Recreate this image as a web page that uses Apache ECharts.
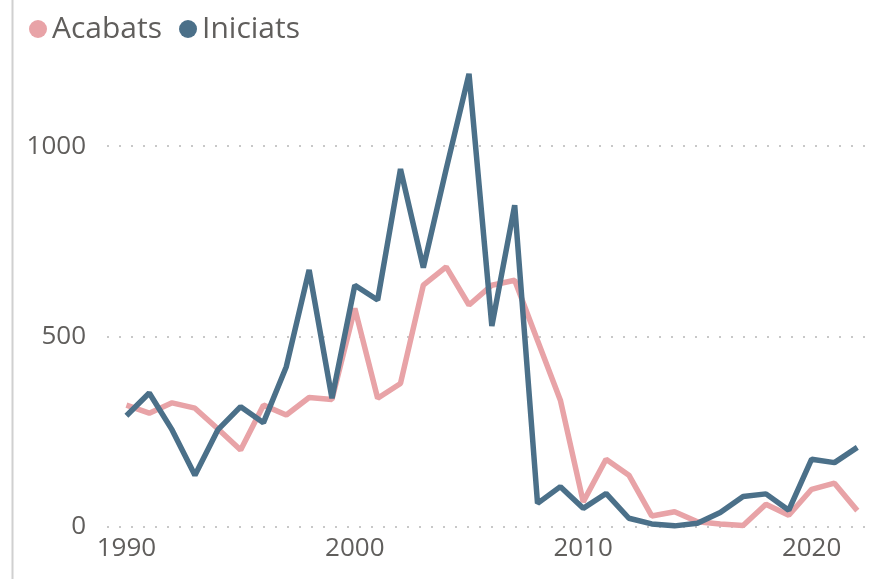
<!DOCTYPE html>
<html>
<head>
<meta charset="utf-8">
<script src="https://cdn.jsdelivr.net/npm/echarts@6/dist/echarts.min.js"></script>
<style>
  html, body { margin: 0; padding: 0; background: #fff; }
  #chart { width: 881px; height: 579px; }
</style>
</head>
<body>
<div id="chart"></div>
<script>
// Yearly counts, 1990–2022
const years = [1990,1991,1992,1993,1994,1995,1996,1997,1998,1999,
               2000,2001,2002,2003,2004,2005,2006,2007,2008,2009,
               2010,2011,2012,2013,2014,2015,2016,2017,2018,2019,
               2020,2021,2022];
const acabats = [320,299,326,312,258,202,320,294,340,335,
                 574,338,377,635,683,583,635,648,490,333,
                 66,178,136,29,40,14,8,4,60,31,
                 99,115,43];
const iniciats = [292,352,255,136,255,316,274,421,675,338,
                  635,596,940,681,940,1190,528,845,62,106,
                  49,88,23,8,3,10,38,80,87,44,
                  178,169,209];
const xTicks = [1990, 2000, 2010, 2020];
const yTicks = [0, 500, 1000];

const pair = (vals) => years.map((y, i) => [y, vals[i]]);
const font = '"Open Sans", "Noto Sans", sans-serif';
const plain = (v) => String(Math.round(v));

const chart = echarts.init(document.getElementById('chart'), null, { renderer: 'canvas' });
chart.setOption({
  animation: false,
  textStyle: { fontFamily: font },
  color: ['#E8A3A7', '#4B7089'],
  graphic: [{
    type: 'line',
    shape: { x1: 12.5, y1: 0, x2: 12.5, y2: 579 },
    style: { stroke: '#d0d0d0', lineWidth: 2 }
  }],
  legend: {
    left: 24, top: 9,
    icon: 'circle',
    itemWidth: 18, itemHeight: 18,
    itemGap: 17,
    textStyle: { fontSize: 30, color: '#605E5C', fontFamily: font, padding: [0, 0, 0, 0] },
    data: ['Acabats', 'Iniciats']
  },
  grid: { left: 107, right: 10, top: 51, bottom: 52, containLabel: false },
  xAxis: {
    type: 'value',
    min: 1989.15, max: 2022.6,
    axisLine: { show: false },
    axisTick: { show: false },
    splitLine: { show: false },
    axisLabel: {
      customValues: xTicks, formatter: plain,
      fontSize: 26, color: '#605E5C', margin: 9, fontFamily: font
    }
  },
  yAxis: {
    type: 'value',
    min: 0, max: 1250, interval: 500,
    axisLine: { show: false },
    axisTick: { show: false },
    axisLabel: {
      customValues: yTicks, formatter: plain,
      fontSize: 26, color: '#605E5C', margin: 21, fontFamily: font
    },
    splitLine: {
      show: true,
      lineStyle: { color: ['#C8C8C8', '#C8C8C8', '#C8C8C8', 'rgba(0,0,0,0)'], width: 2, type: [2, 10] }
    }
  },
  series: [
    {
      name: 'Acabats', type: 'line', data: pair(acabats),
      symbol: 'none', lineStyle: { width: 5.5, color: '#E8A3A7' }, z: 2
    },
    {
      name: 'Iniciats', type: 'line', data: pair(iniciats),
      symbol: 'none', lineStyle: { width: 5.5, color: '#4B7089' }, z: 3
    }
  ]
});
</script>
</body>
</html>
